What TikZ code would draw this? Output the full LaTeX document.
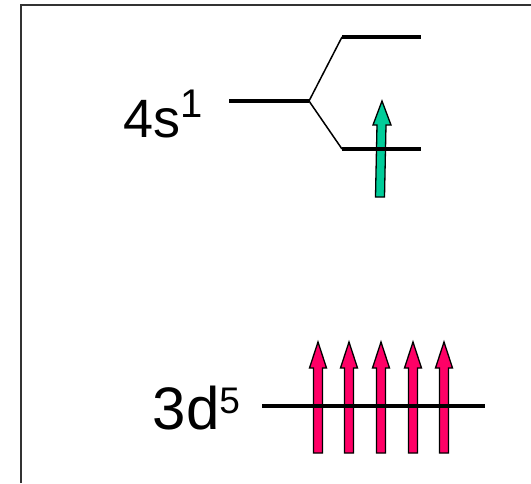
\documentclass[tikz,border=0pt]{standalone}
\usepackage{fontspec}
\setmainfont{Liberation Sans}
\definecolor{spingreen}{HTML}{00CC99}
\definecolor{spinpink}{HTML}{FF0066}
\tikzset{
  level/.style={line width=4pt, black},
  branch/.style={line width=1.5pt, black},
  frameline/.style={line width=2pt, black!80},
  spinarrow/.style={draw=black, line width=1.3pt, line join=miter},
  pics/blockarrow/.style={code={
    \path[pic actions] (-4.5,0) -- (-4.5,{-(#1-26)}) -- (-8.5,{-(#1-26)}) -- (0,-#1)
      -- (8.5,{-(#1-26)}) -- (4.5,{-(#1-26)}) -- (4.5,0) -- cycle;
  }}
}
\begin{document}
\begin{tikzpicture}[x=1pt,y=-1pt]
\useasboundingbox (0,0) rectangle (531,483);
% frame
\coordinate (fbl) at (21,483);
\coordinate (ftl) at (21,5);
\coordinate (ftr) at (531,5);
\draw[frameline] (fbl) -- (ftl) -- (ftr);

% labels
\node[anchor=base west, inner sep=0pt] (l4s) at (123.5,137)
  {\fontsize{54}{54}\selectfont 4s\raisebox{20pt}{\fontsize{40}{40}\selectfont 1}};
\node[anchor=base west, inner sep=0pt] (l3d) at (152.5,429)
  {\fontsize{60}{60}\selectfont 3d\raisebox{16pt}{\fontsize{37}{37}\selectfont 5}};

% coordinates of levels
\coordinate (s0a) at (229,101);
\coordinate (s0b) at (309,101);
\coordinate (su1) at (342,37);
\coordinate (su2) at (421,37);
\coordinate (sl1) at (342,149);
\coordinate (sl2) at (421,149);
\coordinate (d1) at (262,406);
\coordinate (d2) at (485,406);

% arrows (below the lines)
\path[spinarrow, fill=spingreen] (375.5,197) -- (377,125) -- (373,125) -- (382,101)
  -- (391,125) -- (386,125) -- (384.5,197) -- cycle;
\foreach \x/\n in {318/a1,349/a2,381/a3,413/a4,444/a5}{
  \pic[spinarrow, fill=spinpink] (\n) at (\x,453) {blockarrow=111};
}

% levels
\draw[level] (s0a) -- (s0b);
\draw[branch] (s0b) -- (su1);
\draw[branch] (s0b) -- (sl1);
\draw[level] (su1) -- (su2);
\draw[level] (sl1) -- (sl2);
\draw[level] (d1) -- (d2);
\end{tikzpicture}
\end{document}
